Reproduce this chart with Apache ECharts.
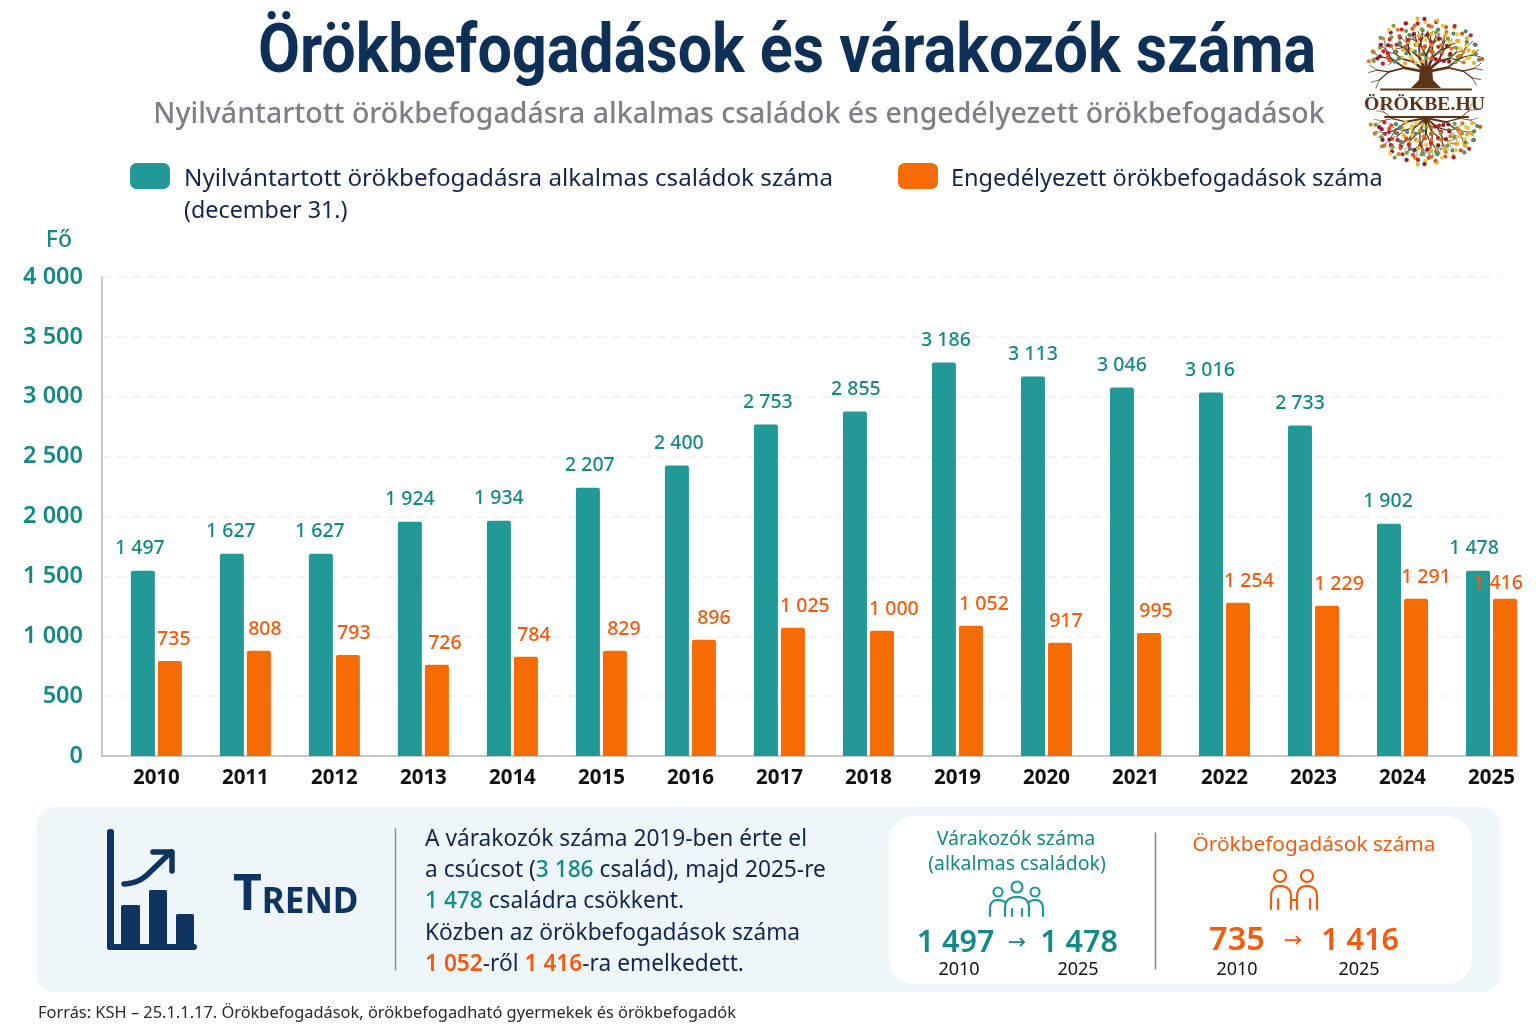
<!DOCTYPE html>
<html lang="hu">
<head>
<meta charset="utf-8">
<title>Örökbefogadások és várakozók száma</title>
<style>html,body{margin:0;padding:0;background:#fff}#c{width:1536px;height:1024px}</style>
<script src="https://cdn.jsdelivr.net/npm/echarts@6/dist/echarts.min.js"></script>
</head>
<body>
<div id="c"></div>
<script>
// ---- data ----
const years = ['2010','2011','2012','2013','2014','2015','2016','2017','2018','2019','2020','2021','2022','2023','2024','2025'];
// printed values (the labels of the reference)
const waitingPrinted = [1497,1627,1627,1924,1934,2207,2400,2753,2855,3186,3113,3046,3016,2733,1902,1478];
const adoptedPrinted = [735,808,793,726,784,829,896,1025,1000,1052,917,995,1254,1229,1291,1416];
// bar heights as actually drawn in the reference, read against the axis
const waitingBars = [1547,1689,1689,1957,1965,2241,2425,2768,2876,3286,3169,3077,3035,2759,1940,1547];
const adoptedBars = [794,878,844,761,828,878,970,1070,1045,1087,945,1028,1279,1254,1313,1313];
const yTicks = [0,500,1000,1500,2000,2500,3000,3500,4000];
const waitingName = 'Nyilvántartott örökbefogadásra alkalmas családok száma';
const adoptedName = 'Engedélyezett örökbefogadások száma';
// label nudges (layout only)
const waitingLabelDx = [-3,-1,-1,0,0,2,2,2,1,2,0,0,-1,0,-1,-4];
const adoptedLabelDx = [4,6,6,8,8,9,10,12,12,13,6,7,11,12,10,-7];
const adoptedLabelDy = [0,0,0,0,0,0,0,0,0,0,0,0,0,0,0,6];

const TEAL='#239997', TEALT='#128a87', ORANGE='#f56b04', ORANGET='#f65a0c', NAVY='#0f3460', INK='#13264f';
const SANS='"Noto Sans","Open Sans",sans-serif';
const fmt = v => String(v).replace(/\B(?=(\d{3})+$)/g,' ');

// ---- decoration helpers ----
const g = [];
const text = (x,y,t,o={}) => g.push({type:'text',z:o.z||10,style:Object.assign({x,y,text:t,fontFamily:SANS,fontSize:20,fill:INK,textAlign:'left',textVerticalAlign:'middle'},o)});
const line = (x1,y1,x2,y2,stroke,lineWidth,z=8) => g.push({type:'line',z,shape:{x1,y1,x2,y2},style:{stroke,lineWidth,lineCap:'round'}});
const rrect = (x,y,width,height,r,fill,z=5) => g.push({type:'rect',z,shape:{x,y,width,height,r},style:{fill}});
const ring = (cx,cy,r,stroke,lineWidth) => g.push({type:'circle',z:9,shape:{cx,cy,r},style:{stroke,lineWidth,fill:'none'}});
// graphic has no free path type: icon outlines are sampled into polylines
function outline(segs,stroke,lineWidth,z=9){
  let pts=[];
  const flush=()=>{ if(pts.length>1) g.push({type:'polyline',z,shape:{points:pts},style:{stroke,lineWidth,fill:'none',lineCap:'round',lineJoin:'round'}}); pts=[]; };
  segs.forEach(s=>{
    const c=s[0], p=pts[pts.length-1];
    if(c==='M'){flush();pts=[[s[1],s[2]]];}
    else if(c==='L'){pts.push([s[1],s[2]]);}
    else if(c==='Q'){for(let t=1;t<=10;t++){const u=t/10,v=1-u;pts.push([v*v*p[0]+2*v*u*s[1]+u*u*s[3],v*v*p[1]+2*v*u*s[2]+u*u*s[4]]);}}
    else if(c==='C'){for(let t=1;t<=14;t++){const u=t/14,v=1-u;pts.push([v*v*v*p[0]+3*v*v*u*s[1]+3*v*u*u*s[3]+u*u*u*s[5],v*v*v*p[1]+3*v*v*u*s[2]+3*v*u*u*s[4]+u*u*u*s[6]]);}}
  });
  flush();
}

// main title (condensed like the reference)
g.push({type:'text',z:10,x:787,y:55,scaleX:0.897,scaleY:1,style:{x:0,y:0,text:'Örökbefogadások és várakozók száma',fontFamily:'Roboto,"Noto Sans",sans-serif',fontWeight:700,fontSize:68,fill:'#0e2f56',textAlign:'center',textVerticalAlign:'middle'}});
text(739,115,'Nyilvántartott örökbefogadásra alkalmas családok és engedélyezett örökbefogadások',{fontWeight:500,fontSize:28.5,fill:'#7c8187',textAlign:'center'});

// legend second line
text(184,211,'(december 31.)',{fontSize:23.3,fill:INK});

// panels
rrect(37,807,1463,185,18,'#eff6f9',3);
rrect(889,816,583,168,26,'#ffffff',4);
line(395.5,829,395.5,970,'#8d9296',1.5);
line(1155.5,833,1155.5,969,'#7d8286',1.5);

// trend icon
rrect(107,829,7,121,3,NAVY);
rrect(107,944,90,6,3,NAVY);
rrect(121,905,19,41,1.5,NAVY);
rrect(149,890,18,56,1.5,NAVY);
rrect(176,914,18,32,1.5,NAVY);
outline([['M',124,884],['C',136,883,141,880,147,875],['L',171,852]],NAVY,5.5);
outline([['M',153,852],['L',172,852],['L',172,871]],NAVY,5.5);
g.push({type:'text',z:10,style:{x:233,y:896,text:'{a|T}{b|REND}',textVerticalAlign:'middle',textAlign:'left',
  rich:{a:{fontFamily:SANS,fontWeight:700,fontSize:50,fill:NAVY,verticalAlign:'bottom'},b:{fontFamily:SANS,fontWeight:700,fontSize:35,fill:NAVY,verticalAlign:'bottom'}}}});

// trend text
const rich={n:{fontFamily:SANS,fontSize:22.7,fill:INK},t:{fontFamily:SANS,fontSize:22.7,fontWeight:500,fill:TEALT},o:{fontFamily:SANS,fontSize:22.7,fontWeight:600,fill:ORANGET}};
const rt=(y,t)=>g.push({type:'text',z:10,style:{x:425,y,text:t,rich,textAlign:'left',textVerticalAlign:'middle'}});
rt(839.5,'{n|A várakozók száma 2019-ben érte el}');
rt(870.5,'{n|a csúcsot (}{t|'+fmt(waitingPrinted[9])+'}{n| család), majd 2025-re}');
rt(901.5,'{t|'+fmt(waitingPrinted[15])+'}{n| családra csökkent.}');
rt(933.5,'{n|Közben az örökbefogadások száma}');
rt(964.5,'{o|'+fmt(adoptedPrinted[9])+'}{n|-ről }{o|'+fmt(adoptedPrinted[15])+'}{n|-ra emelkedett.}');

// right card
text(1016,839,'Várakozók száma',{fontSize:19.6,fill:TEALT,textAlign:'center'});
text(1017,864,'(alkalmas családok)',{fontSize:19.5,fill:TEALT,textAlign:'center'});
ring(998,892,4.5,TEAL,2.2); ring(1017,887,5.5,TEAL,2.2); ring(1035,892,4.5,TEAL,2.2);
outline([['M',990,916],['L',990,909],['Q',990,900,998,900],['Q',1003,900,1006,903]],TEAL,2.2);
outline([['M',1005,916],['L',1005,908],['Q',1005,897,1017,897],['Q',1029,897,1029,908],['L',1029,916]],TEAL,2.2);
outline([['M',1028,903],['Q',1031,900,1035,900],['Q',1043,900,1043,909],['L',1043,916]],TEAL,2.2);
outline([['M',1012,916],['L',1012,909],['M',1022,916],['L',1022,909]],TEAL,2.2);
text(955.5,943,fmt(waitingPrinted[0]),{fontSize:30.5,fontWeight:600,fill:TEALT,textAlign:'center'});
text(1017,943,'→',{fontSize:22,fill:TEALT,textAlign:'center',fontFamily:'"DejaVu Sans"'});
text(1079,943,fmt(waitingPrinted[15]),{fontSize:30.5,fontWeight:600,fill:TEALT,textAlign:'center'});
text(959,970,'2010',{fontSize:18,fill:'#111',textAlign:'center'});
text(1078,970,'2025',{fontSize:18,fill:'#111',textAlign:'center'});

text(1314,845,'Örökbefogadások száma',{fontSize:20.8,fill:ORANGET,textAlign:'center'});
ring(1280,876,6,ORANGET,2.2); ring(1307,876,6,ORANGET,2.2);
outline([['M',1271,909],['L',1271,897],['Q',1271,886,1280,886],['Q',1291,886,1291,897],['L',1291,909],
  ['M',1278,909],['L',1278,899],['M',1291,900],['L',1297,900],
  ['M',1297,909],['L',1297,897],['Q',1297,886,1307,886],['Q',1317,886,1317,897],['L',1317,909],
  ['M',1310,909],['L',1310,899]],ORANGET,2.2);
text(1237,941,fmt(adoptedPrinted[0]),{fontSize:32.5,fontWeight:600,fill:ORANGET,textAlign:'center'});
text(1293,941,'→',{fontSize:22,fill:ORANGET,textAlign:'center',fontFamily:'"DejaVu Sans"'});
text(1360,941,fmt(adoptedPrinted[15]),{fontSize:30.5,fontWeight:600,fill:ORANGET,textAlign:'center'});
text(1237,970,'2010',{fontSize:18,fill:'#111',textAlign:'center'});
text(1359,970,'2025',{fontSize:18,fill:'#111',textAlign:'center'});

// source
text(38,1013.5,'Forrás: KSH – 25.1.1.17. Örökbefogadások, örökbefogadható gyermekek és örökbefogadók',{fontSize:16.4,fill:'#2a2a2a'});

// logo: a deterministic branching tree with leaves
const BROWN='#5c3415';
const leafCols=['#c8202a','#e8b21e','#7f9a3a','#d9541e','#f0c93c','#8e1f2c','#4f8a6a','#e07a1f'];
function branch(x,y,a,len,w,depth){
  const x2=x+Math.cos(a)*len, y2=y+Math.sin(a)*len;
  line(x,y,x2,y2,BROWN,w,7);
  if(depth>0){ branch(x2,y2,a-0.45,len*0.74,w*0.66,depth-1); branch(x2,y2,a+0.42,len*0.72,w*0.66,depth-1); }
}
[-2.95,-2.45,-2.0,-1.57,-1.15,-0.7,-0.2].forEach((a,i)=>branch(1426,72,a,(i==0||i==6)?22:16,2.8,3));
[2.95,2.45,2.0,1.57,1.15,0.7,0.2].forEach((a,i)=>branch(1426,118,a,(i==0||i==6)?20:15,2,3));
function leaves(cx,cy,rx,ry,dir,n){
  for(let i=1;i<=n;i++){
    const r=Math.sqrt(i/n), th=i*2.39996, sx=Math.cos(th), sy=Math.abs(Math.sin(th));
    g.push({type:'circle',z:8,shape:{cx:cx+sx*r*rx,cy:cy+dir*(sy*r*ry+4),r:2.1},style:{fill:leafCols[i%leafCols.length]}});
  }
}
leaves(1426,68,58,46,-1,130);
leaves(1426,118,56,43,1,130);
g.push({type:'polygon',z:8,shape:{points:[[1420,66],[1432,66],[1433,80],[1441,88],[1411,88],[1419,80]]},style:{fill:BROWN}});
line(1381,89.5,1471,89.5,BROWN,2);
line(1385,117,1468,117,BROWN,2);
text(1424.5,105,'ÖRÖKBE.HU',{fontFamily:'"Liberation Serif",serif',fontWeight:700,fontSize:19.7,fill:BROWN,textAlign:'center'});

const chart = echarts.init(document.getElementById('c'),null,{renderer:'canvas'});
chart.setOption({
  animation:false,
  backgroundColor:'#ffffff',
  legend:[
    {left:130,top:163,padding:0,data:[waitingName],itemWidth:40,itemHeight:26,selectedMode:false,icon:'roundRect',formatter:'{a|{name}}',
     textStyle:{rich:{a:{fontFamily:SANS,fontSize:24.2,color:INK,padding:[6,0,0,9]}}}},
    {left:898,top:163,padding:0,data:[adoptedName],itemWidth:40,itemHeight:26,selectedMode:false,icon:'roundRect',formatter:'{a|{name}}',
     textStyle:{rich:{a:{fontFamily:SANS,fontSize:23.5,color:INK,padding:[6,0,0,8]}}}}
  ],
  grid:[
    {left:111.85,width:1428.8,top:277,height:479},
    {left:102,width:1398,top:277,height:479},
    {left:102,width:1416,top:277,height:479}
  ],
  xAxis:[
    {type:'category',gridIndex:0,data:years,boundaryGap:true,axisLine:{show:false},axisTick:{show:false},
     axisLabel:{margin:12,fontFamily:SANS,fontWeight:700,fontSize:20.5,color:'#111'}},
    {type:'value',gridIndex:1,show:false},
    {type:'value',gridIndex:2,axisLine:{show:true,lineStyle:{color:'#b4b8bb',width:1.5}},axisTick:{show:false},axisLabel:{show:false},splitLine:{show:false}}
  ],
  yAxis:[
    {type:'value',gridIndex:0,min:0,max:4000,interval:500,show:false},
    {type:'value',gridIndex:1,min:yTicks[0],max:yTicks[yTicks.length-1],interval:500,name:'Fő',nameLocation:'end',nameGap:25,
     nameTextStyle:{fontFamily:SANS,fontSize:23,fontWeight:500,color:TEALT,align:'right',padding:[0,30,0,0]},
     axisLine:{show:true,lineStyle:{color:'#b4b8bb',width:1.5}},axisTick:{show:false},
     axisLabel:{margin:19,fontFamily:SANS,fontWeight:600,fontSize:23.5,color:TEALT,formatter:fmt},
     splitLine:{show:true,lineStyle:{color:'#eff0f2',width:1.5,type:[9,6]}}},
    {type:'value',gridIndex:2,min:0,max:4000,show:false}
  ],
  series:[
    {name:waitingName,type:'bar',xAxisIndex:0,yAxisIndex:0,barWidth:24,barGap:'12.5%',z:3,
     itemStyle:{color:TEAL,borderRadius:[2,2,0,0]},
     data:waitingBars.map((v,i)=>({value:v,label:{show:true,position:'top',distance:12,offset:[waitingLabelDx[i],0],
       formatter:fmt(waitingPrinted[i]),fontFamily:SANS,fontWeight:500,fontSize:19.5,color:TEALT}}))},
    {name:adoptedName,type:'bar',xAxisIndex:0,yAxisIndex:0,barWidth:24,z:4,
     itemStyle:{color:ORANGE,borderRadius:[2,2,0,0]},
     data:adoptedBars.map((v,i)=>({value:v,label:{show:true,position:'top',distance:11,offset:[adoptedLabelDx[i],adoptedLabelDy[i]],
       formatter:fmt(adoptedPrinted[i]),fontFamily:SANS,fontWeight:500,fontSize:19.5,color:ORANGET}}))}
  ],
  graphic:{elements:g}
});
</script>
</body>
</html>
